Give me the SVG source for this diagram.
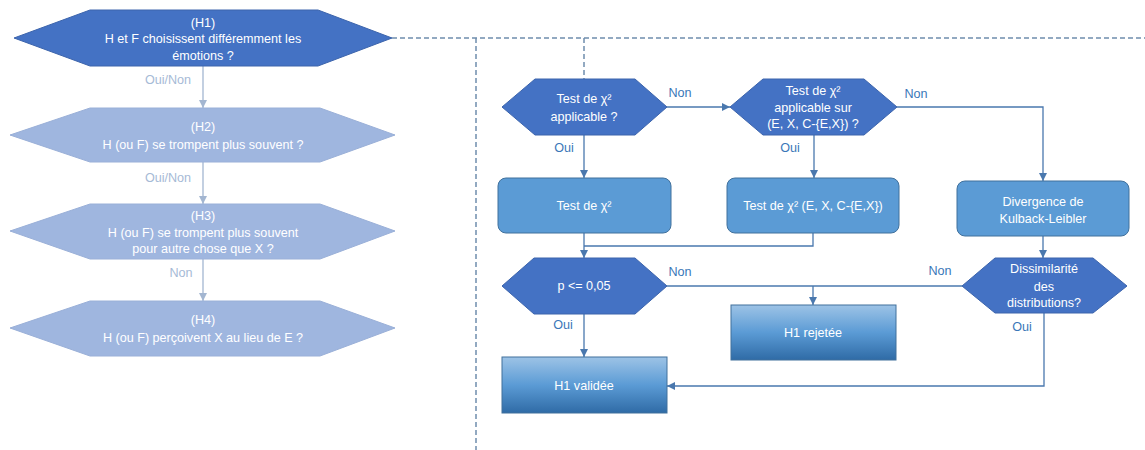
<svg xmlns="http://www.w3.org/2000/svg" width="1145" height="450" viewBox="0 0 1145 450">
<style>
text{font-family:"Liberation Sans",Arial,sans-serif;font-size:12.6px;text-anchor:middle}
.w{fill:#ffffff}
.hx{fill:#4472C4;stroke:#3C64AC;stroke-width:1}
.lh{fill:#9FB6DF;stroke:#9AB0D8;stroke-width:1}
.bx{fill:#5B9BD5;stroke:#41719C;stroke-width:1}
.gb{fill:url(#g);stroke:#41719C;stroke-width:1}
.c{fill:none;stroke:#4A78AE;stroke-width:1.3}
.lc{fill:none;stroke:#A3B6D1;stroke-width:1.3}
.d{fill:none;stroke:#6F8DAD;stroke-width:1.5;stroke-dasharray:5,3}
.lb{fill:#3A77B8}
.ll{fill:#A6BAD6}
</style>
<defs>
<linearGradient id="g" x1="0" y1="0" x2="0" y2="1">
<stop offset="0" stop-color="#9DC3E6"/>
<stop offset="0.5" stop-color="#5B9BD5"/>
<stop offset="1" stop-color="#2F6BA6"/>
</linearGradient>
<marker id="a" markerUnits="userSpaceOnUse" markerWidth="9" markerHeight="9" refX="8" refY="4.5" orient="auto"><path d="M0,0.5 L8,4.5 L0,8.5 Z" fill="#4A78AE"/></marker>
<marker id="la" markerUnits="userSpaceOnUse" markerWidth="9" markerHeight="9" refX="8" refY="4.5" orient="auto"><path d="M0,0.5 L8,4.5 L0,8.5 Z" fill="#A3B6D1"/></marker>
</defs>

<g id="connectors">
<path class="d" d="M392,38 H1145"/>
<path class="d" d="M476,38 V450"/>
<path class="d" d="M584,38 V79"/>
<path class="lc" d="M203,66 V108" marker-end="url(#la)"/>
<path class="lc" d="M203,162 V204" marker-end="url(#la)"/>
<path class="lc" d="M203,259 V301" marker-end="url(#la)"/>
<text class="ll" x="168" y="84">Oui/Non</text>
<text class="ll" x="168" y="182">Oui/Non</text>
<text class="ll" x="181" y="277">Non</text>
<path class="c" d="M667,107 H730" marker-end="url(#a)"/>
<text class="lb" x="680" y="97">Non</text>
<path class="c" d="M897,107 H1043 V181" marker-end="url(#a)"/>
<text class="lb" x="916" y="98">Non</text>
<path class="c" d="M584,135 V178" marker-end="url(#a)"/>
<text class="lb" x="564" y="152">Oui</text>
<path class="c" d="M814,135 V178" marker-end="url(#a)"/>
<text class="lb" x="790" y="152">Oui</text>
<path class="c" d="M584,233 V258" marker-end="url(#a)"/>
<path class="c" d="M813,233 V246 H584"/>
<path class="c" d="M1043,236 V258" marker-end="url(#a)"/>
<path class="c" d="M667,286 H962"/>
<path class="c" d="M813,286 V305" marker-end="url(#a)"/>
<text class="lb" x="680" y="276">Non</text>
<text class="lb" x="940" y="275">Non</text>
<path class="c" d="M584,314 V357" marker-end="url(#a)"/>
<text class="lb" x="563" y="329">Oui</text>
<path class="c" d="M1044,313 V386 H667" marker-end="url(#a)"/>
<text class="lb" x="1022" y="331">Oui</text>
</g>

<g id="h1">
<polygon class="hx" points="14,38 90,10 318,10 392,38 318,66 90,66"/>
<text class="w" x="203" y="27">(H1)</text>
<text class="w" x="203" y="43">H et F choisissent différemment les</text>
<text class="w" x="203" y="60">émotions ?</text>
</g>
<g id="h2">
<polygon class="lh" points="10,135 90,108 320,108 395,135 320,162 90,162"/>
<text class="w" x="203" y="131">(H2)</text>
<text class="w" x="203" y="149">H (ou F) se trompent plus souvent ?</text>
</g>
<g id="h3">
<polygon class="lh" points="10,231 90,204 320,204 395,231 320,259 90,259"/>
<text class="w" x="203" y="220">(H3)</text>
<text class="w" x="203" y="237">H (ou F) se trompent plus souvent</text>
<text class="w" x="203" y="253">pour autre chose que X ?</text>
</g>
<g id="h4">
<polygon class="lh" points="10,328 90,301 320,301 395,328 320,356 90,356"/>
<text class="w" x="203" y="324">(H4)</text>
<text class="w" x="203" y="342">H (ou F)  perçoivent X au lieu de E ?</text>
</g>

<g id="q1">
<polygon class="hx" points="502,107 535,79 635,79 667,107 635,135 535,135"/>
<text class="w" x="584" y="103">Test de χ²</text>
<text class="w" x="584" y="121">applicable ?</text>
</g>
<g id="q2">
<polygon class="hx" points="730,107 763,79 864,79 897,107 864,135 763,135"/>
<text class="w" x="813" y="95">Test de χ²</text>
<text class="w" x="813" y="112">applicable sur</text>
<text class="w" x="813" y="128">(E, X, C-{E,X}) ?</text>
</g>
<g id="b1">
<rect class="bx" x="498" y="178" width="173" height="55" rx="8"/>
<text class="w" x="584" y="210">Test de χ²</text>
</g>
<g id="b2">
<rect class="bx" x="727" y="178" width="172" height="55" rx="8"/>
<text class="w" x="813" y="210">Test de χ² (E, X, C-{E,X})</text>
</g>
<g id="b3">
<rect class="bx" x="957" y="181" width="172" height="55" rx="8"/>
<text class="w" x="1043" y="206">Divergence de</text>
<text class="w" x="1043" y="223">Kulback-Leibler</text>
</g>
<g id="p">
<polygon class="hx" points="502,286 534,258 635,258 667,286 635,314 534,314"/>
<text class="w" x="584" y="290">p &lt;= 0,05</text>
</g>
<g id="dis">
<polygon class="hx" points="962,286 995,258 1093,258 1127,286 1093,313 995,313"/>
<text class="w" x="1044" y="273">Dissimilarité</text>
<text class="w" x="1044" y="291">des</text>
<text class="w" x="1044" y="307">distributions?</text>
</g>
<g id="rej">
<rect class="gb" x="731" y="305" width="165" height="55"/>
<text class="w" x="813" y="337">H1 rejetée</text>
</g>
<g id="val">
<rect class="gb" x="502" y="357" width="165" height="56"/>
<text class="w" x="584" y="390">H1 validée</text>
</g>
</svg>
